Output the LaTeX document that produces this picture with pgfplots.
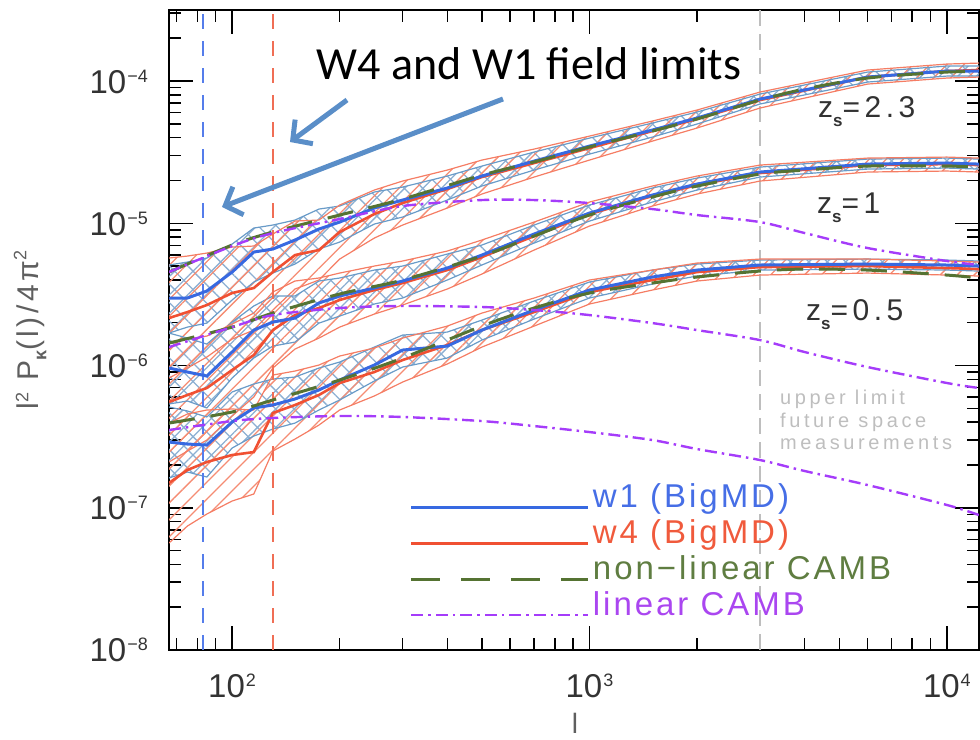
\documentclass[border=0pt]{standalone}
\usepackage{fontspec}
\setmainfont{Liberation Sans}
\newfontfamily\legfont[LetterSpace=9]{Liberation Sans}
\newfontfamily\zfont[LetterSpace=15]{Liberation Sans}
\newfontfamily\uplfont[LetterSpace=18]{Liberation Sans}
\newfontfamily\ylfont[LetterSpace=12]{Liberation Sans}
\newfontfamily\calfont{Carlito}
\usepackage{pgfplots}
\pgfplotsset{compat=1.18}
\usepackage{pgfplotstable}
\usepgfplotslibrary{fillbetween}
\usetikzlibrary{patterns.meta,arrows.meta}

\definecolor{w1c}{RGB}{55,105,225}
\definecolor{w4c}{RGB}{240,80,50}
\definecolor{w1e}{RGB}{105,155,200}
\definecolor{w4e}{RGB}{245,125,100}
\definecolor{w1h}{RGB}{140,175,210}
\definecolor{w4h}{RGB}{245,140,115}
\definecolor{olivec}{RGB}{85,115,50}
\definecolor{purpc}{RGB}{165,60,250}
\definecolor{vblue}{RGB}{85,125,235}
\definecolor{vred}{RGB}{240,110,85}
\definecolor{vgray}{RGB}{190,190,190}
\definecolor{arrowc}{RGB}{90,142,200}
\definecolor{w1t}{RGB}{70,110,230}
\definecolor{w4t}{RGB}{240,90,60}
\definecolor{nlt}{RGB}{95,125,65}
\definecolor{lint}{RGB}{170,70,240}
\definecolor{labgray}{RGB}{95,95,95}
\definecolor{zlab}{RGB}{50,50,50}
\definecolor{uplim}{RGB}{190,190,190}

\newcommand{\tl}[1]{10\kern1bp\raisebox{11bp}{\fontsize{18bp}{18bp}\selectfont #1}}

% z_s = 2.3
\pgfplotstableread{
l w1 w1u w1l w4 w4u w4l
66.6 2.983e-6 5.09e-6 1.691e-6 2.156e-6 5.70e-6 8.168e-7
75 2.983e-6 5.339e-6 1.863e-6 2.376e-6 5.884e-6 9.60e-7
85 3.341e-6 5.70e-6 1.988e-6 2.663e-6 6.176e-6 1.1475e-6
100 4.54e-6 7.145e-6 2.888e-6 3.234e-6 6.807e-6 1.534e-6
115 6.278e-6 9.26e-6 3.865e-6 3.507e-6 6.92e-6 1.775e-6
130 6.590e-6 9.72e-6 4.468e-6 4.54e-6 8.403e-6 2.456e-6
150 7.63e-6 1.054e-5 5.169e-6 5.980e-6 1.037e-5 3.451e-6
175 9.11e-6 1.259e-5 6.590e-6 6.484e-6 1.054e-5 3.992e-6
200 1.020e-5 1.322e-5 7.380e-6 8.68e-6 1.344e-5 5.605e-6
250 1.280e-5 1.659e-5 9.88e-6 1.1615e-5 1.713e-5 7.876e-6
300 1.457e-5 1.798e-5 1.1065e-5 1.388e-5 1.982e-5 9.72e-6
400 1.770e-5 2.149e-5 1.457e-5 1.741e-5 2.367e-5 1.280e-5
500 2.149e-5 2.525e-5 1.828e-5 2.114e-5 2.783e-5 1.606e-5
700 2.738e-5 3.168e-5 2.367e-5 2.651e-5 3.325e-5 2.114e-5
1000 3.490e-5 3.973e-5 3.066e-5 3.379e-5 4.103e-5 2.783e-5
1500 4.527e-5 5.070e-5 4.038e-5 4.45e-5 5.237e-5 3.784e-5
2000 5.497e-5 6.058e-5 4.988e-5 5.41e-5 6.257e-5 4.676e-5
3000 7.473e-5 8.102e-5 6.896e-5 7.35e-5 8.369e-5 6.463e-5
6000 1.067e-4 1.157e-4 9.84e-5 1.067e-4 1.195e-4 9.526e-5
10000 1.176e-4 1.275e-4 1.084e-4 1.176e-4 1.317e-4 1.050e-4
12300 1.176e-4 1.275e-4 1.084e-4 1.195e-4 1.338e-4 1.067e-4
}\grpA

% z_s = 1
\pgfplotstableread{
l w1 w1u w1l w4 w4u w4l
66.6 9.60e-7 1.691e-6 5.365e-7 5.541e-7 1.462e-6 2.097e-7
75 9.00e-7 1.559e-6 5.632e-7 6.207e-7 1.534e-6 2.505e-7
85 8.437e-7 1.415e-6 5.029e-7 6.952e-7 1.611e-6 2.993e-7
100 1.244e-6 2.021e-6 8.168e-7 9.30e-7 1.956e-6 4.418e-7
115 1.775e-6 2.621e-6 1.129e-6 1.185e-6 2.337e-6 6.009e-7
130 2.021e-6 3.081e-6 1.370e-6 1.775e-6 3.287e-6 9.60e-7
150 2.156e-6 3.081e-6 1.462e-6 2.263e-6 3.928e-6 1.306e-6
175 2.751e-6 3.928e-6 1.988e-6 2.537e-6 4.124e-6 1.559e-6
200 3.081e-6 4.124e-6 2.227e-6 2.888e-6 4.468e-6 1.863e-6
250 3.507e-6 4.691e-6 2.707e-6 3.395e-6 5.005e-6 2.300e-6
300 3.928e-6 5.005e-6 2.983e-6 3.803e-6 5.43e-6 2.663e-6
400 4.845e-6 6.077e-6 3.992e-6 4.691e-6 6.380e-6 3.451e-6
500 5.980e-6 7.031e-6 5.09e-6 5.790e-6 7.63e-6 4.397e-6
700 8.403e-6 9.72e-6 7.262e-6 8.135e-6 1.020e-5 6.484e-6
1000 1.1805e-5 1.344e-5 1.037e-5 1.1615e-5 1.4105e-5 9.565e-6
1500 1.580e-5 1.770e-5 1.4105e-5 1.555e-5 1.828e-5 1.322e-5
2000 1.888e-5 2.080e-5 1.713e-5 1.857e-5 2.149e-5 1.606e-5
3000 2.293e-5 2.484e-5 2.114e-5 2.256e-5 2.566e-5 1.982e-5
6000 2.608e-5 2.828e-5 2.405e-5 2.566e-5 2.874e-5 2.293e-5
10000 2.651e-5 2.874e-5 2.445e-5 2.608e-5 2.921e-5 2.330e-5
12300 2.608e-5 2.828e-5 2.405e-5 2.566e-5 2.874e-5 2.293e-5
}\grpB

% z_s = 0.5
\pgfplotstableread{
l w1 w1u w1l w4 w4u w4l
66.6 2.897e-7 5.111e-7 1.619e-7 1.493e-7 3.941e-7 5.65e-8
75 2.805e-7 4.790e-7 1.784e-7 1.843e-7 4.564e-7 7.441e-8
85 2.760e-7 4.347e-7 1.645e-7 2.097e-7 4.868e-7 9.038e-8
100 4.005e-7 6.515e-7 2.629e-7 2.349e-7 4.948e-7 1.1155e-7
115 5.029e-7 7.416e-7 3.193e-7 2.464e-7 4.868e-7 1.249e-7
130 5.279e-7 8.037e-7 3.576e-7 4.638e-7 8.574e-7 2.505e-7
150 5.818e-7 8.301e-7 3.941e-7 5.279e-7 9.148e-7 3.042e-7
175 6.730e-7 9.60e-7 4.868e-7 6.207e-7 1.008e-6 3.815e-7
200 7.908e-7 1.058e-6 5.724e-7 7.533e-7 1.166e-6 4.868e-7
250 1.008e-6 1.348e-6 7.781e-7 9.00e-7 1.328e-6 6.107e-7
300 1.285e-6 1.637e-6 9.76e-7 1.093e-6 1.559e-6 7.656e-7
400 1.370e-6 1.719e-6 1.129e-6 1.393e-6 1.894e-6 1.025e-6
500 1.775e-6 2.087e-6 1.510e-6 1.775e-6 2.337e-6 1.348e-6
700 2.456e-6 2.842e-6 2.121e-6 2.376e-6 2.983e-6 1.894e-6
1000 3.395e-6 3.865e-6 2.983e-6 3.287e-6 3.992e-6 2.707e-6
1500 4.191e-6 4.691e-6 3.742e-6 3.992e-6 4.691e-6 3.395e-6
2000 4.691e-6 5.169e-6 4.257e-6 4.54e-6 5.254e-6 3.928e-6
3000 5.09e-6 5.515e-6 4.691e-6 4.924e-6 5.605e-6 4.326e-6
6000 5.169e-6 5.605e-6 4.767e-6 5.005e-6 5.605e-6 4.468e-6
10000 5.09e-6 5.515e-6 4.691e-6 4.845e-6 5.43e-6 4.326e-6
12300 5.005e-6 5.43e-6 4.615e-6 4.767e-6 5.339e-6 4.257e-6
}\grpC

% CAMB curves
\pgfplotstableread{
l nlA linA nlB linB nlC linC
66.6 4.54e-6 4.54e-6 1.438e-6 1.348e-6 3.941e-7 3.519e-7
100 7.03e-6 6.92e-6 1.863e-6 1.863e-6 4.714e-7 4.070e-7
130 8.68e-6 8.54e-6 2.337e-6 2.263e-6 5.724e-7 4.277e-7
200 1.143e-5 1.071e-5 3.183e-6 2.537e-6 7.908e-7 4.418e-7
300 1.48e-5 1.322e-5 3.992e-6 2.621e-6 1.129e-6 4.347e-7
500 2.18e-5 1.457e-5 5.884e-6 2.579e-6 1.894e-6 4.070e-7
700 2.70e-5 1.457e-5 8.135e-6 2.456e-6 2.537e-6 3.754e-7
1000 3.44e-5 1.388e-5 1.143e-5 2.263e-6 3.234e-6 3.406e-7
1500 4.45e-5 1.259e-5 1.530e-5 1.988e-6 3.803e-6 2.993e-7
2000 5.41e-5 1.143e-5 1.828e-5 1.775e-6 4.191e-6 2.587e-7
3000 7.35e-5 1.020e-5 2.220e-5 1.510e-6 4.615e-6 2.166e-7
4000 8.79e-5 8.54e-6 2.367e-5 1.244e-6 4.767e-6 1.813e-7
6000 1.05e-4 6.70e-6 2.525e-5 9.76e-7 4.691e-6 1.445e-7
10000 1.157e-4 5.43e-6 2.525e-5 7.537e-7 4.326e-6 1.046e-7
12300 1.157e-4 5.09e-6 2.484e-5 6.952e-7 4.124e-6 8.89e-8
}\camb

\pgfplotsset{
  w1thick/.style={color=w1c, line width=3bp},
  w4thick/.style={color=w4c, line width=2.6bp},
  w1edge/.style={color=w1e, line width=1.2bp},
  w4edge/.style={color=w4e, line width=1.2bp},
  nlstyle/.style={color=olivec, line width=3bp, dash pattern=on 26bp off 16bp},
  nllegend/.style={color=olivec, line width=3bp, dash pattern=on 29bp off 21bp},
  linstyle/.style={color=purpc, line width=2.4bp, dash pattern=on 12bp off 5bp on 2.5bp off 5bp},
  bandw1/.style={draw=none, pattern={Hatch[angle=45,distance=13bp,line width=1.3bp]}, pattern color=w1h},
  bandw4/.style={draw=none, pattern={Lines[angle=45,distance=12bp,line width=1.3bp]}, pattern color=w4h},
}

\begin{document}
\begin{tikzpicture}
\begin{axis}[
  at={(0bp,0bp)}, anchor=south west,
  scale only axis, width=810bp, height=640bp,
  xmode=log, ymode=log,
  xmin=66.6, xmax=12300, ymin=1e-8, ymax=3.16e-4,
  axis line style={line width=2bp, black},
  tick style={line width=1.5bp, black},
  major tick length=24bp, minor tick length=12bp,
  xtick={100,1000,10000},
  xticklabels={\tl{2},\tl{3},\tl{4}},
  minor xtick={70,80,90,200,300,400,500,600,700,800,900,2000,3000,4000,5000,6000,7000,8000,9000},
  ytick={1e-8,1e-7,1e-6,1e-5,1e-4},
  yticklabels={\tl{−8},\tl{−7},\tl{−6},\tl{−5},\tl{−4}},
  minor ytick={2e-8,3e-8,4e-8,5e-8,6e-8,7e-8,8e-8,9e-8,2e-7,3e-7,4e-7,5e-7,6e-7,7e-7,8e-7,9e-7,2e-6,3e-6,4e-6,5e-6,6e-6,7e-6,8e-6,9e-6,2e-5,3e-5,4e-5,5e-5,6e-5,7e-5,8e-5,9e-5,2e-4,3e-4},
  tick label style={font=\fontsize{33bp}{36bp}\selectfont, text=black!80},
  xticklabel style={anchor=base, inner sep=0pt, yshift=-47bp},
  yticklabel style={anchor=base east, inner sep=0pt, xshift=-21bp, yshift=-12bp},
  legend image code/.code={\draw[#1] (0bp,0bp) -- (177bp,0bp);},
  legend style={at={(rel axis cs:0.2975,0.2594)}, anchor=north west, draw=none, fill=none,
    inner sep=0pt, outer sep=0pt, row sep=4.7bp, column sep=3bp,
    nodes={inner sep=0pt, anchor=base west, text height=24bp, text depth=7bp,
      font=\legfont\fontsize{33bp}{36bp}\selectfont}},
  legend cell align=left,
]
\addlegendimage{w1thick}
\addlegendentry{\textcolor{w1t}{w1 (BigMD)}}
\addlegendimage{w4thick}
\addlegendentry{\textcolor{w4t}{w4 (BigMD)}}
\addlegendimage{nllegend}
\addlegendentry{\textcolor{nlt}{non−linear CAMB}}
\addlegendimage{linstyle}
\addlegendentry{\textcolor{lint}{linear CAMB}}

% upper limit line
\addplot[forget plot, color=vgray, line width=1.5bp, dash pattern=on 16bp off 8bp] coordinates {(3000,1e-8) (3000,3.16e-4)};

% band edges
\addplot[forget plot, w1edge, name path=Au1] table[x=l,y=w1u]{\grpA};
\addplot[forget plot, w1edge, name path=Al1] table[x=l,y=w1l]{\grpA};
\addplot[forget plot, w4edge, name path=Au4] table[x=l,y=w4u]{\grpA};
\addplot[forget plot, w4edge, name path=Al4] table[x=l,y=w4l]{\grpA};
\addplot[forget plot, w1edge, name path=Bu1] table[x=l,y=w1u]{\grpB};
\addplot[forget plot, w1edge, name path=Bl1] table[x=l,y=w1l]{\grpB};
\addplot[forget plot, w4edge, name path=Bu4] table[x=l,y=w4u]{\grpB};
\addplot[forget plot, w4edge, name path=Bl4] table[x=l,y=w4l]{\grpB};
\addplot[forget plot, w1edge, name path=Cu1] table[x=l,y=w1u]{\grpC};
\addplot[forget plot, w1edge, name path=Cl1] table[x=l,y=w1l]{\grpC};
\addplot[forget plot, w4edge, name path=Cu4] table[x=l,y=w4u]{\grpC};
\addplot[forget plot, w4edge, name path=Cl4] table[x=l,y=w4l]{\grpC};

% hatched bands
\addplot[forget plot, bandw1] fill between[of=Au1 and Al1];
\addplot[forget plot, bandw1] fill between[of=Bu1 and Bl1];
\addplot[forget plot, bandw1] fill between[of=Cu1 and Cl1];
\addplot[forget plot, bandw4] fill between[of=Au4 and Al4];
\addplot[forget plot, bandw4] fill between[of=Bu4 and Bl4];
\addplot[forget plot, bandw4] fill between[of=Cu4 and Cl4];

% field limits
\addplot[forget plot, color=vblue, line width=2bp, dash pattern=on 15bp off 12bp] coordinates {(83,1e-8) (83,3.16e-4)};
\addplot[forget plot, color=vred, line width=2bp, dash pattern=on 15bp off 12bp] coordinates {(130,1e-8) (130,3.16e-4)};

% measured spectra
\addplot[forget plot, w4thick] table[x=l,y=w4]{\grpA};
\addplot[forget plot, w4thick] table[x=l,y=w4]{\grpB};
\addplot[forget plot, w4thick] table[x=l,y=w4]{\grpC};
\addplot[forget plot, w1thick] table[x=l,y=w1]{\grpA};
\addplot[forget plot, w1thick] table[x=l,y=w1]{\grpB};
\addplot[forget plot, w1thick] table[x=l,y=w1]{\grpC};

% CAMB
\addplot[forget plot, nlstyle, smooth] table[x=l,y=nlA]{\camb};
\addplot[forget plot, nlstyle, smooth] table[x=l,y=nlB]{\camb};
\addplot[forget plot, nlstyle, smooth] table[x=l,y=nlC]{\camb};
\addplot[forget plot, linstyle, smooth] table[x=l,y=linA]{\camb};
\addplot[forget plot, linstyle, smooth] table[x=l,y=linB]{\camb};
\addplot[forget plot, linstyle, smooth] table[x=l,y=linC]{\camb};
\end{axis}

\begin{scope}[x=1bp,y=-1bp,shift={(-169bp,650bp)}]
  \path[use as bounding box] (0,0) rectangle (980,740);
  % y label
  \node[rotate=90, text=labgray, inner sep=0pt, font=\ylfont\fontsize{30bp}{34bp}\selectfont] at (30,330)
    {l\raisebox{10bp}{\fontsize{18bp}{18bp}\selectfont 2}\ P\raisebox{-8bp}{\fontsize{18bp}{18bp}\selectfont\bfseries κ}(l)/4π\raisebox{12bp}{\fontsize{18bp}{18bp}\selectfont 2}};
  % x label
  \node[anchor=north, inner sep=0pt, text=labgray, font=\fontsize{28bp}{30bp}\selectfont] at (575,713) {l};
  % z labels
  \node[anchor=base west, inner sep=0pt, text=zlab, font=\zfont\fontsize{30bp}{34bp}\selectfont] at (818,118)
    {z\raisebox{-9bp}{\fontsize{17bp}{17bp}\selectfont\bfseries s}=2.3};
  \node[anchor=base west, inner sep=0pt, text=zlab, font=\zfont\fontsize{30bp}{34bp}\selectfont] at (817,214)
    {z\raisebox{-9bp}{\fontsize{17bp}{17bp}\selectfont\bfseries s}=1};
  \node[anchor=base west, inner sep=0pt, text=zlab, font=\zfont\fontsize{30bp}{34bp}\selectfont] at (806,321)
    {z\raisebox{-9bp}{\fontsize{17bp}{17bp}\selectfont\bfseries s}=0.5};
  % upper limit text
  \node[anchor=base west, inner sep=0pt, text=uplim, font=\uplfont\fontsize{20bp}{22bp}\selectfont] at (780,405) {upper limit};
  \node[anchor=base west, inner sep=0pt, text=uplim, font=\uplfont\fontsize{20bp}{22bp}\selectfont] at (780,428) {future space};
  \node[anchor=base west, inner sep=0pt, text=uplim, font=\uplfont\fontsize{20bp}{22bp}\selectfont] at (780,450) {measurements};
  % annotation
  \node[anchor=base, inner sep=0pt, font=\calfont\fontsize{46bp}{50bp}\selectfont] at (529,80) {W4 and W1 field limits};
  \draw[arrowc, line width=5bp, -{Straight Barb[length=14bp,width=30bp,line width=5bp]}] (347,100) -- (290,142);
  \draw[arrowc, line width=5bp, -{Straight Barb[length=14bp,width=30bp,line width=5bp]}] (503,99) -- (222,207);
\end{scope}
\end{tikzpicture}
\end{document}
